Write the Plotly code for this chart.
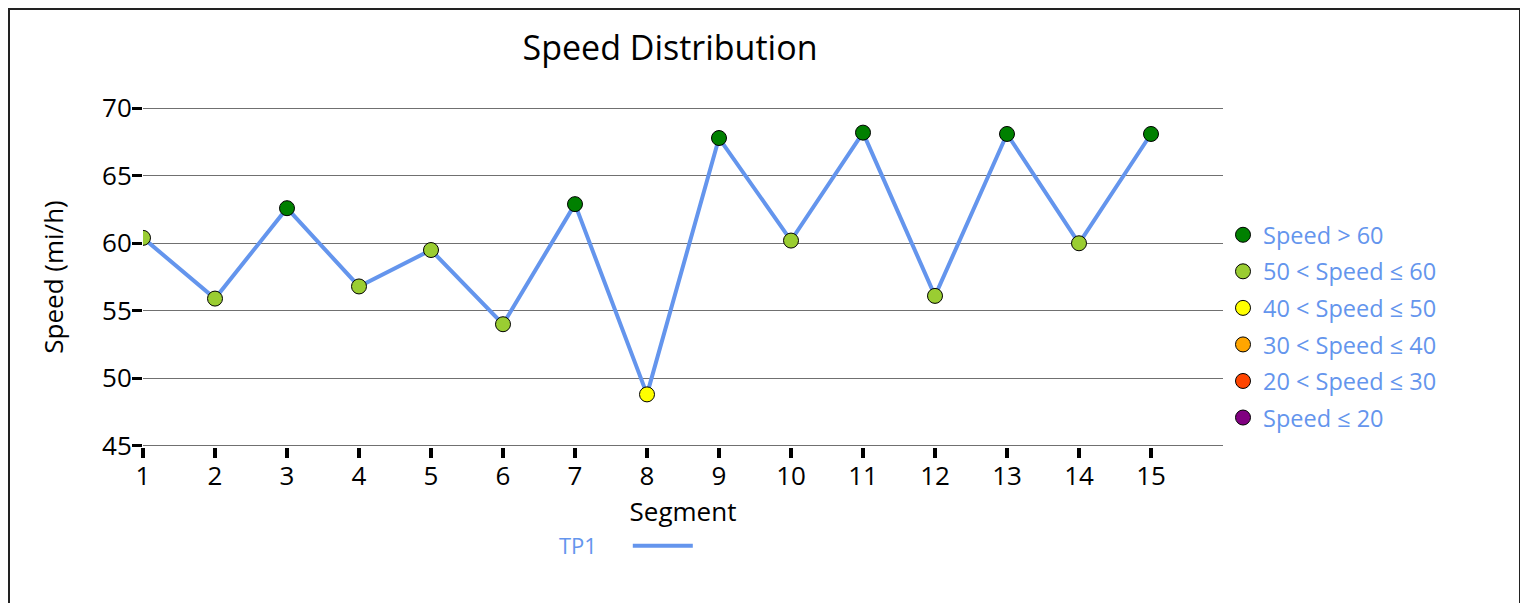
import plotly.graph_objects as go

# ---- data ----
segments = list(range(1, 16))
speeds = [60.4, 55.9, 62.6, 56.8, 59.5, 54.0, 62.9, 48.8, 67.8, 60.2, 68.2, 56.1, 68.1, 60.0, 68.1]
speed_class = ["50-60", "50-60", ">60", "50-60", "50-60", "50-60", ">60", "40-50",
               ">60", "50-60", ">60", "50-60", ">60", "50-60", ">60"]
class_keys = [">60", "50-60", "40-50", "30-40", "20-30", "<=20"]
class_labels = ["Speed > 60", "50 < Speed ≤ 60", "40 < Speed ≤ 50",
                "30 < Speed ≤ 40", "20 < Speed ≤ 30", "Speed ≤ 20"]
class_colors = ["#008000", "#9ACD32", "#FFFF00", "#FFA500", "#FF4500", "#800080"]
y_ticks = [45, 50, 55, 60, 65, 70]
series_name = "TP1"

FONT = "Open Sans"
LINE_COLOR = "#6495ED"

W, H = 1528, 603
L, T = 135, 99
PR, PB = 1215, 439          # plot right / bottom in figure px
PW, PH = PR - L, PB - T


def px(x):
    return (x - L) / PW


def py(y):
    return (PB - y) / PH


fig = go.Figure()

fig.add_trace(go.Scatter(
    x=segments, y=speeds, mode="lines", name="",
    line=dict(color=LINE_COLOR, width=4),
    legend="legend2", hoverinfo="skip",
))

for i, (key, label, color) in enumerate(zip(class_keys, class_labels, class_colors)):
    xs = [s for s, c in zip(segments, speed_class) if c == key]
    ys = [v for v, c in zip(speeds, speed_class) if c == key]
    if not xs:
        xs, ys = [None], [None]
    fig.add_trace(go.Scatter(
        x=xs, y=ys, mode="markers", name=label, legendgroup=f"g{i}",
        marker=dict(color=color, size=15, line=dict(color="black", width=1)),
        legend="legend",
    ))

fig.update_layout(
    width=W, height=H,
    margin=dict(l=L, r=W - PR, t=T, b=H - PB),
    paper_bgcolor="white", plot_bgcolor="white",
    font=dict(family=FONT, color="black", size=26),
    title=dict(text="Speed Distribution", x=px(662), xref="paper",
               xanchor="center", y=1 - 40 / H, yanchor="middle",
               font=dict(family=FONT, size=34, color="black")),
    xaxis=dict(range=[1, 16], tickmode="array", tickvals=segments,
               ticktext=[str(s) for s in segments],
               showgrid=False, zeroline=False, showline=False,
               ticks="outside", ticklen=10, tickwidth=4, tickcolor="black",
               tickfont=dict(size=26, color="black"), ticklabelstandoff=-4,
               title=dict(text="Segment", font=dict(size=26, color="black"), standoff=0)),
    yaxis=dict(range=[44.9, 70.1], tickmode="array", tickvals=y_ticks,
               showgrid=True, gridcolor="#707070", gridwidth=1,
               zeroline=False, showline=False,
               ticks="outside", ticklen=10, tickwidth=3, tickcolor="black",
               tickfont=dict(size=26, color="black"), ticklabelstandoff=-5,
               title=dict(text="Speed (mi/h)", font=dict(size=26, color="black"), standoff=30)),
    legend=dict(x=1.0, xanchor="left", y=py(326.5 - 8), yanchor="middle",
                font=dict(size=23.5, color=LINE_COLOR), tracegroupgap=3,
                traceorder="grouped", bgcolor="rgba(0,0,0,0)"),
    legend2=dict(orientation="h", x=px(549), xanchor="left",
                 y=py(546 - 8), yanchor="middle",
                 title=dict(text=series_name + "\u00a0" * 4, side="left",
                            font=dict(size=22, color=LINE_COLOR)),
                 itemwidth=60, font=dict(size=22, color=LINE_COLOR),
                 bgcolor="rgba(0,0,0,0)"),
    showlegend=True,
    shapes=[dict(type="rect", xref="paper", yref="paper",
                 x0=px(1), x1=px(1512),
                 y0=py(640), y1=py(1),
                 line=dict(color="#222222", width=2), fillcolor="rgba(0,0,0,0)",
                 layer="above")],
)

fig.write_html("out.html")
